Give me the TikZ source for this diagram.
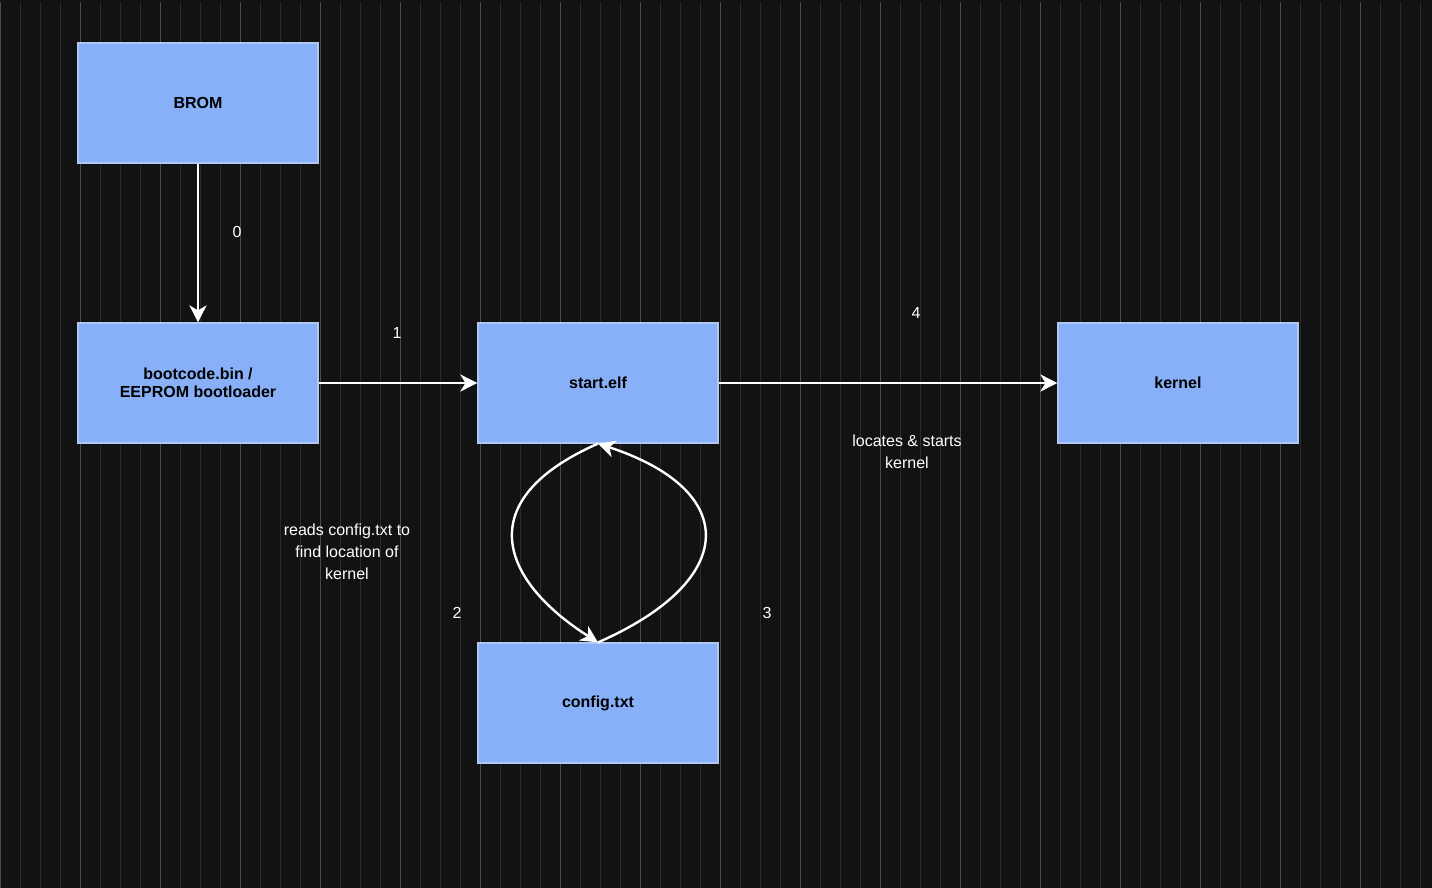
\documentclass[tikz,border=0pt]{standalone}
\usepackage{fontspec}
\setmainfont{Liberation Sans}
\usetikzlibrary{arrows.meta}
\definecolor{bgdark}{HTML}{121212}
\definecolor{gridminor}{HTML}{2A2A2A}
\definecolor{gridmajor}{HTML}{4A4A4A}
\definecolor{boxfill}{HTML}{87B0F8}
\definecolor{boxline}{HTML}{B0C8F5}
\tikzset{
  stage/.style={draw=boxline, line width=1.2pt, fill=boxfill, minimum width=240pt, minimum height=120pt, inner sep=0pt, font=\fontsize{16}{18}\selectfont\bfseries, text=black, align=center},
  flow/.style={draw=white, line width=2.4pt, -{Stealth[length=17pt,width=17pt,inset=5pt]}},
  lbl/.style={text=white, font=\fontsize{16}{22}\selectfont, align=center, inner sep=0pt}
}
\begin{document}
\begin{tikzpicture}[x=1pt,y=-1pt]
\fill[bgdark] (0,0) rectangle (1432,888);
\useasboundingbox (0,0) rectangle (1432,888);
\draw[gridminor, line width=0.8pt] (-3,2) grid[step=20] (1432,888);
\draw[gridmajor, line width=0.8pt] (-3,2) grid[step=80] (1432,888);
\node[stage] (brom) at (198,103) {BROM};
\node[stage] (boot) at (198,383) {bootcode.bin /\\EEPROM bootloader};
\node[stage] (start) at (598,383) {start.elf};
\node[stage] (kern) at (1178,383) {kernel};
\node[stage] (conf) at (598,703) {config.txt};
\draw[flow] (brom) -- (boot);
\draw[flow] (boot) -- (start);
\draw[flow] (start) -- (kern);
\draw[flow] (start.south) .. controls (470,500) and (500,580) .. (conf.north);
\draw[flow] (conf.north) .. controls (740,580) and (740,490) .. (start.south);
\node[lbl] (l0) at (237,232) {0};
\node[lbl] (l1) at (397,333) {1};
\node[lbl] (l4) at (916,313) {4};
\node[lbl] (l2) at (457,613) {2};
\node[lbl] (l3) at (767,613) {3};
\node[lbl] (lstart) at (907,452) {locates \& starts\\kernel};
\node[lbl] (lread) at (347,552) {reads config.txt to\\find location of\\kernel};
\end{tikzpicture}
\end{document}
